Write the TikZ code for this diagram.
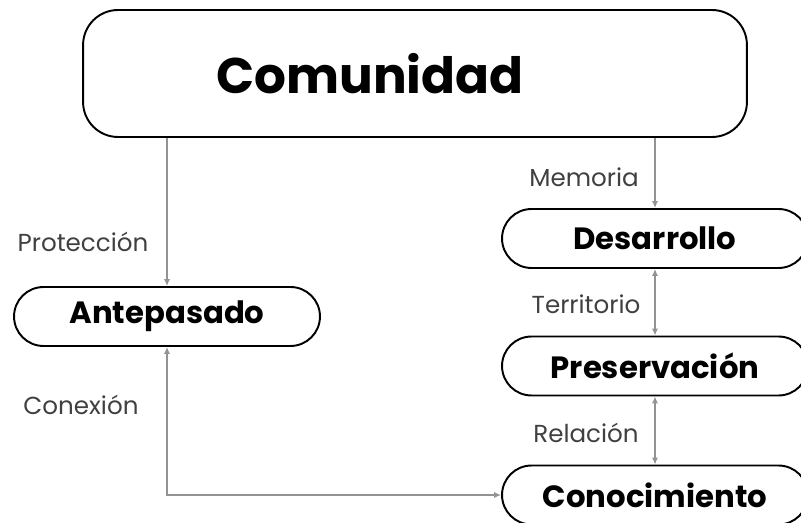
\documentclass[tikz,border=0pt]{standalone}
\usepackage{fontspec}
\setmainfont{Poppins}
\usetikzlibrary{arrows.meta}

\begin{document}
\begin{tikzpicture}[
        x=0.02cm, y=-0.02cm, % 1 единица = 1 пиксель
        box/.style={draw, line width=1.1pt, align=center, inner sep=0pt,
            minimum width=6.12cm, minimum height=1.18cm, rounded corners=0.59cm,
            font=\fontsize{17.5}{20}\selectfont\bfseries}, % Стиль узлов
        link/.style={draw=gray!85, line width=0.8pt, -{Latex[length=4pt, width=3.6pt]}}, % Стрелки
        both/.style={{Latex[length=4pt, width=3.6pt]}-{Latex[length=4pt, width=3.6pt]}}, % Двусторонние
        kant/.style={text=black!75, font=\fontsize{14}{16}\selectfont}, % Подписи
    ]
    \useasboundingbox (0,0) rectangle (801,523);
    \clip (0,0) rectangle (801,523);

    \node[box, minimum width=13.28cm, minimum height=2.54cm, rounded corners=0.7cm] (com) at (415,73.5) {};
    \node[font=\fontsize{28.5}{32}\selectfont\bfseries] (comtxt) at (370,73.5) {Comunidad};
    \node[box] (ant) at (167,316.5) {Antepasado};
    \node[box] (des) at (655,238.5) {Desarrollo};
    \node[box] (pres) at (655,366) {Preservación};
    \node[box] (kon) at (655,495) {Conocimiento};

    \draw[link] (com.south -| ant.north) -- (ant.north);
    \draw[link] (com.south -| des.north) -- (des.north);
    \draw[link, both] (des) -- (pres);
    \draw[link, both] (pres) -- (kon);
    \draw[link, both] (ant.south) |- (kon.west);

    \node[kant] (prot) at (83,242) {Protección};
    \node[kant] (mem) at (584,177) {Memoria};
    \node[kant] (terr) at (586,304) {Territorio};
    \node[kant] (rel) at (586,433) {Relación};
    \node[kant] (conex) at (81,405) {Conexión};
\end{tikzpicture}
\end{document}
